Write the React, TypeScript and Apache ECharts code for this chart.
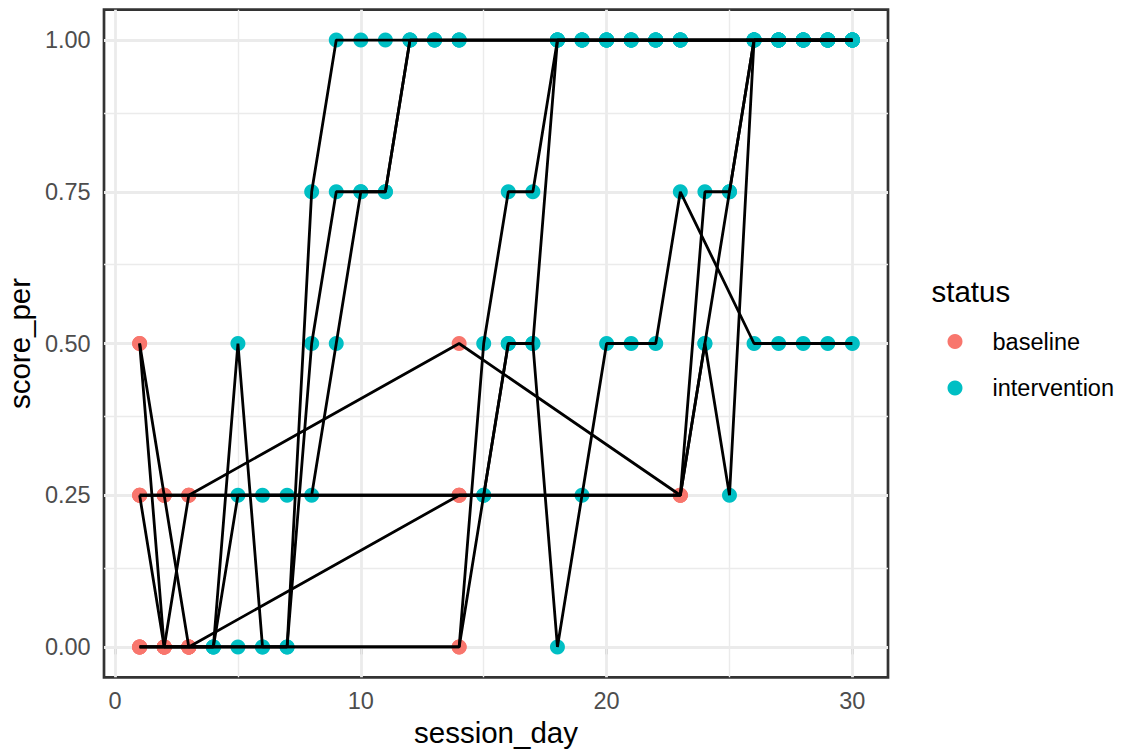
import React, { useEffect, useRef } from "react";
import * as echarts from "echarts";

// Session days and scores for each participant, grouped by the day their
// intervention phase begins (tier 1: day 4, tier 2: day 15, tier 3: day 24).
const tier1Start = 4;
const tier2Start = 15;
const tier3Start = 24;

const tier1Days = [1, 2, 3, 4, 5, 6, 7, 8, 9, 10, 11, 12, 13, 14, 18, 19, 20, 21, 22, 23, 26, 27, 28, 29, 30];
const p1Scores = [0.5, 0, 0, 0, 0.5, 0, 0, 0.75, 1, 1, 1, 1, 1, 1, 1, 1, 1, 1, 1, 1, 1, 1, 1, 1, 1];
const p2Scores = [0.25, 0, 0, 0, 0.25, 0.25, 0.25, 0.25, 0.5, 0.75, 0.75, 1, 1, 1, 1, 1, 1, 1, 1, 1, 1, 1, 1, 1, 1];
const p3Scores = [0, 0, 0, 0, 0, 0, 0, 0.5, 0.75, 0.75, 0.75, 1, 1, 1, 1, 1, 1, 1, 1, 1, 1, 1, 1, 1, 1];

const tier2Days = [1, 2, 3, 14, 15, 16, 17, 18, 19, 20, 21, 22, 23, 26, 27, 28, 29, 30];
const q1Scores = [0, 0, 0, 0, 0.5, 0.75, 0.75, 1, 1, 1, 1, 1, 1, 1, 1, 1, 1, 1];
const q2Scores = [0.5, 0.25, 0, 0, 0.25, 0.5, 0.5, 0, 0.25, 0.5, 0.5, 0.5, 0.75, 0.5, 0.5, 0.5, 0.5, 0.5];
const q3Scores = [0.25, 0.25, 0.25, 0.25, 0.25, 0.5, 0.5, 1, 1, 1, 1, 1, 1, 1, 1, 1, 1, 1];

const tier3Days = [1, 2, 3, 14, 23, 24, 25, 26, 27, 28, 29, 30];
const r1Scores = [0, 0, 0.25, 0.5, 0.25, 0.75, 0.75, 1, 1, 1, 1, 1];
const r2Scores = [0, 0, 0, 0.25, 0.25, 0.5, 0.25, 1, 1, 1, 1, 1];
const r3Scores = [0.25, 0.25, 0.25, 0.25, 0.25, 0.5, 0.75, 1, 1, 1, 1, 1];

const xTicks = [0, 10, 20, 30];
const xMinor = [5, 15, 25];
const yTicks = [0, 0.25, 0.5, 0.75, 1];
const yMinor = [0.125, 0.375, 0.625, 0.875];

const statusNames = ["baseline", "intervention"];
const statusColors = ["#F8766D", "#00BFC4"];

type Participant = { days: number[]; scores: number[]; start: number };

const participants: Participant[] = [
  { days: tier1Days, scores: p1Scores, start: tier1Start },
  { days: tier1Days, scores: p2Scores, start: tier1Start },
  { days: tier1Days, scores: p3Scores, start: tier1Start },
  { days: tier2Days, scores: q1Scores, start: tier2Start },
  { days: tier2Days, scores: q2Scores, start: tier2Start },
  { days: tier2Days, scores: q3Scores, start: tier2Start },
  { days: tier3Days, scores: r1Scores, start: tier3Start },
  { days: tier3Days, scores: r2Scores, start: tier3Start },
  { days: tier3Days, scores: r3Scores, start: tier3Start },
];

const FONT = "'Liberation Sans', Arial, Helvetica, sans-serif";

export default function App() {
  const ref = useRef<HTMLDivElement>(null);

  useEffect(() => {
    if (!ref.current) return;
    const chart = echarts.init(ref.current, undefined, { renderer: "svg" });

    const baselinePts: number[][] = [];
    const interventionPts: number[][] = [];
    participants.forEach((p) => {
      p.days.forEach((d, i) => {
        if (d < p.start) baselinePts.push([d, p.scores[i]]);
        else interventionPts.push([d, p.scores[i]]);
      });
    });

    const lineSeries = participants.map((p, k) => ({
      name: "participant" + (k + 1),
      type: "line",
      data: p.days.map((d, i) => [d, p.scores[i]]),
      showSymbol: false,
      symbol: "none",
      lineStyle: { color: "#000000", width: 2.8 },
      z: 4,
      silent: true,
    }));

    const gridLines = (xs: number[], ys: number[], width: number) => ({
      type: "line",
      data: [],
      z: 1,
      silent: true,
      markLine: {
        silent: true,
        z: 1,
        symbol: ["none", "none"],
        label: { show: false },
        lineStyle: { color: "#EBEBEB", width, type: "solid" },
        data: [...xs.map((v) => ({ xAxis: v })), ...ys.map((v) => ({ yAxis: v }))],
      },
    });

    chart.setOption({
      animation: false,
      backgroundColor: "#ffffff",
      textStyle: { fontFamily: FONT },
      grid: {
        left: 104,
        top: 9.7,
        width: 784,
        height: 667.6,
        outerBoundsMode: "none",
        containLabel: false,
        show: true,
        backgroundColor: "#ffffff",
        borderColor: "#333333",
        borderWidth: 2.7,
      },
      title: {
        text: "status",
        left: 931.5,
        top: 276,
        padding: 0,
        textStyle: { fontFamily: FONT, fontSize: 29.5, fontWeight: "normal", color: "#000000" },
      },
      legend: {
        data: statusNames,
        orient: "vertical",
        left: 947.5,
        top: 329.5,
        padding: 0,
        itemWidth: 15,
        itemHeight: 15,
        itemGap: 22.5,
        icon: "circle",
        selectedMode: false,
        textStyle: { fontFamily: FONT, fontSize: 23.5, color: "#000000", padding: [0, 0, 0, 25] },
      },
      xAxis: {
        type: "value",
        min: -0.45,
        max: 31.45,
        name: "session_day",
        nameLocation: "middle",
        nameGap: 35,
        nameTextStyle: { fontFamily: FONT, fontSize: 29.5, color: "#000000" },
        axisLine: { show: false },
        axisTick: { show: true, length: 7.4, lineStyle: { color: "#333333", width: 2.7 }, customValues: xTicks },
        axisLabel: { margin: 11.5, fontFamily: FONT, fontSize: 23.5, color: "#4D4D4D", customValues: xTicks },
        splitLine: { show: false },
      },
      yAxis: {
        type: "value",
        min: -0.05,
        max: 1.05,
        name: "score_per",
        nameLocation: "middle",
        nameGap: 63,
        nameTextStyle: { fontFamily: FONT, fontSize: 29.5, color: "#000000" },
        axisLine: { show: false },
        axisTick: { show: true, length: 7.4, lineStyle: { color: "#333333", width: 2.7 }, customValues: yTicks },
        axisLabel: {
          margin: 13.3,
          fontFamily: FONT,
          fontSize: 23.5,
          color: "#4D4D4D",
          customValues: yTicks,
          formatter: (v: number) => v.toFixed(2),
        },
        splitLine: { show: false },
      },
      series: [
        gridLines(xMinor, yMinor, 1.4),
        gridLines(xTicks, yTicks, 2.8),
        {
          name: statusNames[0],
          type: "scatter",
          data: baselinePts,
          symbol: "circle",
          symbolSize: 15,
          itemStyle: { color: statusColors[0], opacity: 1 },
          z: 3,
          silent: true,
        },
        {
          name: statusNames[1],
          type: "scatter",
          data: interventionPts,
          symbol: "circle",
          symbolSize: 15,
          itemStyle: { color: statusColors[1], opacity: 1 },
          z: 3,
          silent: true,
        },
        ...lineSeries,
      ],
    });

    return () => {
      chart.dispose();
    };
  }, []);

  return (
    <div
      ref={ref}
      style={{ position: "fixed", left: 0, top: 0, width: 1123, height: 750, background: "#ffffff" }}
    />
  );
}
